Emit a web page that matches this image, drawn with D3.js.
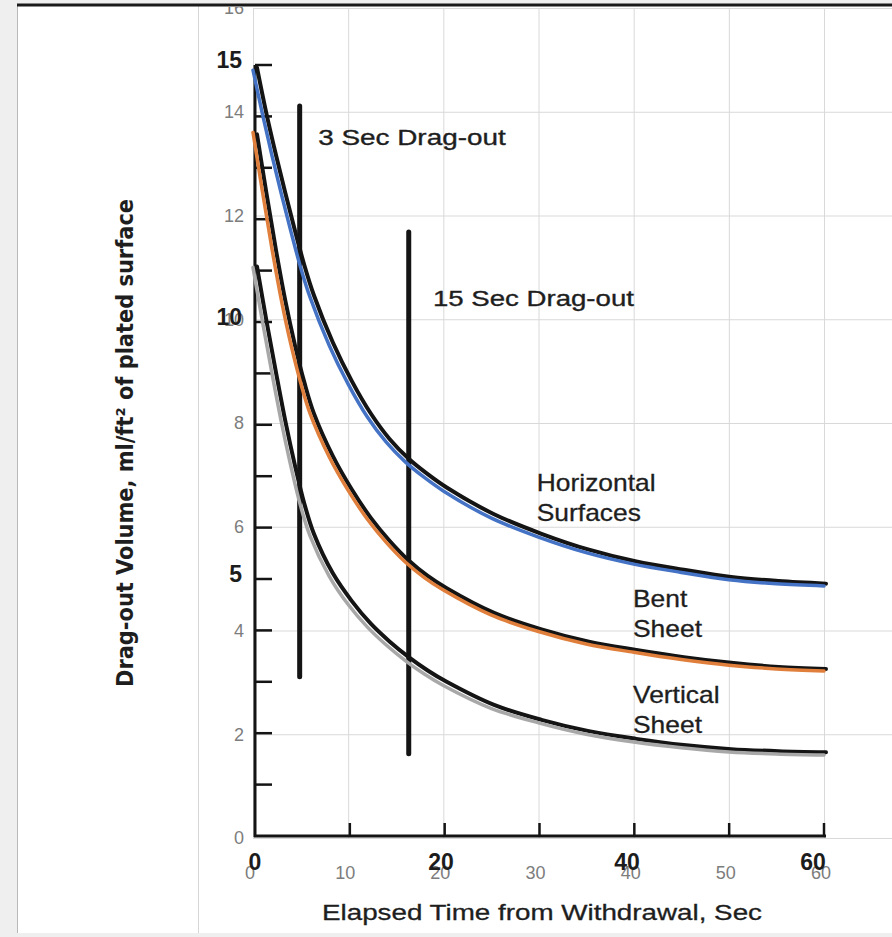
<!DOCTYPE html>
<html>
<head>
<meta charset="utf-8">
<script src="https://cdn.jsdelivr.net/npm/d3@7"></script>
<style>
  html, body { margin: 0; padding: 0; background: #efefef; }
  svg { display: block; }
</style>
</head>
<body>
<svg id="chart" width="892" height="937"></svg>
<script>
// ---------------- DATA ----------------
// Elapsed time (s) at which curve values were read
const timeSec = [0, 1, 2, 3, 4, 5, 6, 8, 10, 12, 14, 16, 18, 20, 25, 30, 35, 40, 45, 50, 55, 60];

// Excel overlay series (ml/ft²)
const horizontalSurfaces = [14.8, 13.95, 13.15, 12.4, 11.68, 11.0, 10.42, 9.5, 8.75, 8.12, 7.63, 7.25, 6.95, 6.69, 6.17, 5.8, 5.5, 5.28, 5.12, 4.98, 4.9, 4.86];
const bentSheet          = [13.6, 12.45, 11.35, 10.35, 9.5, 8.78, 8.18, 7.35, 6.7, 6.15, 5.7, 5.32, 5.02, 4.78, 4.3, 3.98, 3.74, 3.58, 3.44, 3.33, 3.26, 3.22];
const verticalSheet      = [11.0, 9.95, 8.95, 8.0, 7.15, 6.4, 5.82, 5.05, 4.5, 4.07, 3.72, 3.42, 3.16, 2.94, 2.5, 2.22, 2.0, 1.85, 1.74, 1.66, 1.62, 1.6];

// Original scanned (black) curves, in the scanned chart's own units
const scanHorizontal = [14.95, 14.05, 13.25, 12.5, 11.78, 11.1, 10.52, 9.6, 8.85, 8.22, 7.72, 7.34, 7.04, 6.78, 6.26, 5.88, 5.57, 5.34, 5.18, 5.04, 4.96, 4.91];
const scanBent       = [13.65, 12.5, 11.4, 10.4, 9.55, 8.82, 8.22, 7.39, 6.74, 6.19, 5.74, 5.36, 5.06, 4.82, 4.34, 4.02, 3.78, 3.62, 3.48, 3.37, 3.29, 3.25];
const scanVertical   = [11.08, 10.02, 9.02, 8.06, 7.21, 6.46, 5.88, 5.11, 4.57, 4.13, 3.78, 3.48, 3.22, 3.0, 2.55, 2.26, 2.04, 1.89, 1.77, 1.69, 1.65, 1.63];

// Excel axis ticks
const excelXTicks = [0, 10, 20, 30, 40, 50, 60];
const excelYTicks = [0, 2, 4, 6, 8, 10, 12, 14, 16];
// Scanned chart ticks / labels
const scanXTicks = [10, 20, 30, 40, 50, 60];
const scanYTicks = [1, 2, 3, 4, 5, 6, 7, 8, 9, 10, 11, 12, 13, 14, 15];
const scanXLabels = [0, 20, 40, 60];
const scanYLabels = [5, 10, 15];

// Drag-out marker bars and their labels (scanned units)
const dragoutBars = [
  { label: "3 Sec Drag-out",  t: 4.5,  from: 3.1, to: 14.2,  labelT: 6.45,  labelV: 13.6 },
  { label: "15 Sec Drag-out", t: 16.0, from: 1.6, to: 11.75, labelT: 18.55, labelV: 10.47 }
];
// Curve labels (scanned units)
const curveLabels = [
  { lines: ["Horizontal", "Surfaces"], t: 29.5, v: 6.87 },
  { lines: ["Bent", "Sheet"],          t: 39.65, v: 4.61 },
  { lines: ["Vertical", "Sheet"],      t: 39.65, v: 2.76 }
];

const xTitle = "Elapsed Time from Withdrawal, Sec";
const yTitle = "Drag-out Volume, ml/ft² of plated surface";

// ---------------- DRAW ----------------
const W = 892, H = 937;
const svg = d3.select("#chart");

// paper / page
svg.append("rect").attr("x", 17).attr("y", 5).attr("width", W - 17).attr("height", 928).attr("fill", "#ffffff");
svg.append("line").attr("x1", 17.5).attr("x2", 17.5).attr("y1", 5).attr("y2", 933).attr("stroke", "#b8b8b8").attr("stroke-width", 1);
svg.append("line").attr("x1", 198.5).attr("x2", 198.5).attr("y1", 6).attr("y2", 933).attr("stroke", "#d6d6d6").attr("stroke-width", 1);

svg.append("defs").append("clipPath").attr("id", "page")
  .append("rect").attr("x", 17).attr("y", 7).attr("width", W - 17).attr("height", 926);
const g = svg.append("g").attr("clip-path", "url(#page)");

// Excel scales
const xE = d3.scaleLinear().domain([0, 70]).range([253, 253 + 7 * 95.17]);
const yE = d3.scaleLinear().domain([0, 16]).range([838, 8]);
// Scanned chart scales
const xS = d3.scaleLinear().domain([0, 60]).range([257, 826]);
const yS = d3.scaleLinear().domain([0, 15]).range([836, 65]);
const xSLab = d3.scaleLinear().domain([0, 60]).range([255, 813]);

// Excel gridlines via axes
const gridY = d3.axisLeft(yE).tickValues(excelYTicks).tickSize(-(W - 253)).tickFormat("");
g.append("g").attr("transform", "translate(253,0)").call(gridY)
  .call(s => s.select(".domain").remove())
  .call(s => s.selectAll("line").attr("stroke", "#d9d9d9").attr("stroke-width", 1));
const gridX = d3.axisBottom(xE).tickValues(excelXTicks).tickSize(-(838 - 8)).tickFormat("");
g.append("g").attr("transform", "translate(0,838)").call(gridX)
  .call(s => s.select(".domain").remove())
  .call(s => s.selectAll("line").attr("stroke", "#d9d9d9").attr("stroke-width", 1));

// Excel tick labels
const lblFont = "'Liberation Sans', Arial, sans-serif";
g.append("g").selectAll("text").data(excelYTicks).join("text")
  .attr("x", 244).attr("y", d => yE(d)).attr("dy", "0.35em")
  .attr("text-anchor", "end").attr("font-family", lblFont).attr("font-size", 18)
  .attr("fill", "#7d7d7d").text(d => d);
g.append("g").selectAll("text").data(excelXTicks).join("text")
  .attr("x", d => xE(d) - 3).attr("y", 873).attr("dy", "0.35em")
  .attr("text-anchor", "middle").attr("font-family", lblFont).attr("font-size", 18)
  .attr("fill", "#7d7d7d").text(d => d);

// Scanned axes
const ink = "#141414";
g.append("line").attr("x1", xS(0) - 2).attr("x2", xS(0) - 2).attr("y1", yS(15)).attr("y2", yS(0) + 1)
  .attr("stroke", ink).attr("stroke-width", 3);
g.append("line").attr("x1", xS(0) - 3).attr("x2", xS(60)).attr("y1", yS(0)).attr("y2", yS(0))
  .attr("stroke", ink).attr("stroke-width", 3);
g.append("g").selectAll("line").data(scanYTicks).join("line")
  .attr("x1", xS(0) - 2).attr("x2", xS(0) + 15).attr("y1", d => yS(d)).attr("y2", d => yS(d))
  .attr("stroke", ink).attr("stroke-width", 2.5);
g.append("g").selectAll("line").data(scanXTicks).join("line")
  .attr("x1", d => xS(d) - 2).attr("x2", d => xS(d) - 2).attr("y1", yS(0)).attr("y2", yS(0) - 13)
  .attr("stroke", ink).attr("stroke-width", 2.5);

// Scanned bold tick labels
const boldFont = "'Liberation Sans', Arial, Helvetica, sans-serif";
g.append("g").selectAll("text").data(scanYLabels).join("text")
  .attr("x", 242).attr("y", d => yS(d) - 5).attr("dy", "0.35em")
  .attr("text-anchor", "end").attr("font-family", boldFont).attr("font-weight", "bold")
  .attr("font-size", 23).attr("fill", "#1c1c1c").text(d => d);
g.append("g").selectAll("text").data(scanXLabels).join("text")
  .attr("x", d => xSLab(d)).attr("y", 862).attr("dy", "0.35em")
  .attr("text-anchor", "middle").attr("font-family", boldFont).attr("font-weight", "bold")
  .attr("font-size", 23).attr("fill", "#1c1c1c").text(d => d);

// Drag-out bars
g.append("g").selectAll("line").data(dragoutBars).join("line")
  .attr("x1", d => xS(d.t)).attr("x2", d => xS(d.t))
  .attr("y1", d => yS(d.to)).attr("y2", d => yS(d.from))
  .attr("stroke", ink).attr("stroke-width", 5).attr("stroke-linecap", "round");

// Scanned black curves
const lineS = d3.line().x((d, i) => xS(timeSec[i])).y(d => yS(d)).curve(d3.curveCatmullRom.alpha(0.5));
[scanHorizontal, scanBent, scanVertical].forEach(arr => {
  g.append("path").attr("d", lineS(arr)).attr("fill", "none")
    .attr("stroke", ink).attr("stroke-width", 4).attr("stroke-linecap", "round");
});

// Excel colored series
const lineE = d3.line().x((d, i) => xE(timeSec[i])).y(d => yE(d)).curve(d3.curveCatmullRom.alpha(0.5));
const series = [
  { data: horizontalSurfaces, color: "#4472c4" },
  { data: bentSheet, color: "#e07f3c" },
  { data: verticalSheet, color: "#a8a8a8" }
];
series.forEach(s => {
  g.append("path").attr("d", lineE(s.data)).attr("fill", "none")
    .attr("stroke", s.color).attr("stroke-width", 3.5).attr("stroke-linecap", "round");
});

// Annotation text (scanned style)
const annFont = "'Liberation Sans', Arial, Helvetica, sans-serif";
g.append("g").selectAll("text").data(dragoutBars).join("text")
  .attr("x", d => xS(d.labelT)).attr("y", d => yS(d.labelV)).attr("dy", "0.35em")
  .attr("font-family", annFont).attr("font-size", 22).attr("fill", "#1e1e1e")
  .attr("stroke", "#1e1e1e").attr("stroke-width", 0.35)
  .attr("textLength", d => d.label.length * 13.4).attr("lengthAdjust", "spacingAndGlyphs")
  .text(d => d.label);

curveLabels.forEach(c => {
  c.lines.forEach((ln, i) => {
    const t = g.append("text")
      .attr("x", xS(c.t)).attr("y", yS(c.v) + i * 30).attr("dy", "0.35em")
      .attr("font-family", annFont).attr("font-size", 24).attr("fill", "#1e1e1e")
      .attr("stroke", "#1e1e1e").attr("stroke-width", 0.3)
      .text(ln);
    const nat = t.node().getComputedTextLength();
    t.attr("textLength", nat * 1.1).attr("lengthAdjust", "spacingAndGlyphs");
  });
});

// Axis titles
g.append("text")
  .attr("x", 542).attr("y", 912).attr("dy", "0.35em").attr("text-anchor", "middle")
  .attr("font-family", annFont).attr("font-size", 22).attr("fill", "#1e1e1e")
  .attr("stroke", "#1e1e1e").attr("stroke-width", 0.3)
  .attr("textLength", 440).attr("lengthAdjust", "spacingAndGlyphs")
  .text(xTitle);
g.append("text")
  .attr("transform", "translate(125,443) rotate(-90)")
  .attr("dy", "0.35em").attr("text-anchor", "middle")
  .attr("font-family", "'Liberation Sans Narrow', 'DejaVu Sans Condensed', 'Liberation Sans', sans-serif")
  .attr("font-weight", "bold").attr("font-size", 23).attr("fill", "#1e1e1e")
  .attr("textLength", 488).attr("lengthAdjust", "spacingAndGlyphs")
  .text(yTitle);

// top border of scanned page
svg.append("line").attr("x1", 17).attr("x2", W).attr("y1", 5).attr("y2", 5)
  .attr("stroke", "#1a1a1a").attr("stroke-width", 3);
</script>
</body>
</html>
